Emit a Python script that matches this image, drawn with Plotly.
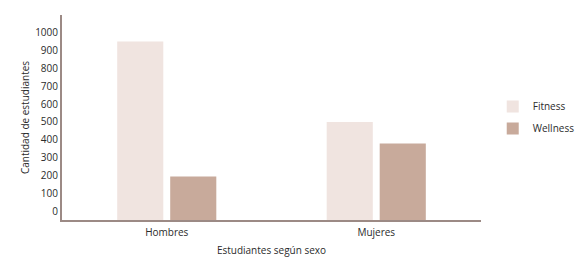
import plotly.graph_objects as go

categories = ["Hombres", "Mujeres"]
fitness = [950, 500]
wellness = [195, 380]
tick_values = [0, 100, 200, 300, 400, 500, 600, 700, 800, 900, 1000]

BASE = -49  # bars in the reference reach down to the axis line, below the 0 label

fig = go.Figure()
fig.add_trace(go.Bar(
    name="Fitness", x=categories, y=[v - BASE for v in fitness], base=BASE,
    legendgroup="f", marker=dict(color="#F0E4E0", line=dict(width=0)),
))
fig.add_trace(go.Bar(
    name="Wellness", x=categories, y=[v - BASE for v in wellness], base=BASE,
    legendgroup="w", marker=dict(color="#C8AA9B", line=dict(width=0)),
))

font_family = "Open Sans, Noto Sans, sans-serif"
# page body has an 8px margin, so the figure is sized 8px smaller
fig.update_layout(
    width=578, height=256,
    margin=dict(l=54, r=105, t=7, b=44, autoexpand=False),
    paper_bgcolor="white", plot_bgcolor="white",
    barmode="group", bargap=0.494, bargroupgap=0.13,
    font=dict(family=font_family, size=10, color="#2b2b2b"),
    showlegend=True,
    legend=dict(x=1.028, y=0.5, xanchor="left", yanchor="middle",
                font=dict(size=10), traceorder="grouped", tracegroupgap=3,
                itemwidth=30),
)
fig.update_xaxes(
    showline=True, linecolor="#9C8A85", linewidth=2,
    ticks="", showgrid=False, automargin=False, ticklabelstandoff=2,
    title=dict(text="Estudiantes según sexo", standoff=9, font=dict(size=10)),
)
fig.update_yaxes(
    range=[BASE, 1099], tickvals=tick_values,
    showline=True, linecolor="#9C8A85", linewidth=2,
    showgrid=False, zeroline=False, ticks="", automargin=False,
    title=dict(text="Cantidad de estudiantes", standoff=4, font=dict(size=10)),
)

fig.write_html("out.html")
